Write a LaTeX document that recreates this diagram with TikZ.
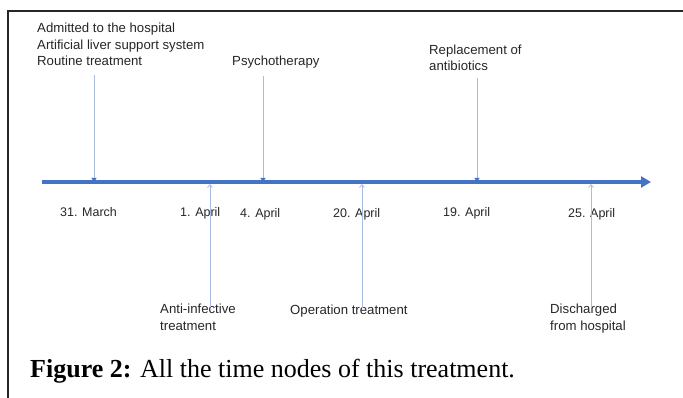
\documentclass[tikz,border=0pt]{standalone}
\usepackage{fontspec}
\setmainfont{Liberation Serif}
\setsansfont{Liberation Sans}
\usetikzlibrary{positioning,arrows.meta}
\definecolor{axisblue}{HTML}{4472C4}
\definecolor{pinblue}{HTML}{A9BDE3}
\definecolor{labelgray}{HTML}{262626}

\begin{document}
\begin{tikzpicture}[x=1pt, y=-1pt,
        event/.style={font=\sffamily\fontsize{13.2}{16.5}\selectfont, text=labelgray, align=left, inner sep=0pt, anchor=base west},
        date/.style={font=\sffamily\fontsize{12.5}{14}\selectfont, text=labelgray, inner sep=0pt, anchor=base west},
        axis/.style={draw=axisblue, line width=3.5pt, -{Triangle[length=10pt, width=11pt]}},
        downpin/.style={draw=pinblue, line width=0.8pt, -{Triangle[length=4pt, width=5pt, color=axisblue]}},
        uppin/.style={draw=pinblue, line width=0.8pt, -{Straight Barb[length=3pt, width=5pt]}},
        frame/.style={draw=black!85, line width=2pt}
    ]
        \useasboundingbox (0,0) rectangle (683,398);
        \draw [frame] (8,398) -- (8,11) -- (683,11);

        % time axis
        \coordinate (start) at (42,182);
        \coordinate (end) at (651,182);
        \draw [axis] (start) -- (end);

        % points on the axis
        \coordinate (t1) at (94,182);
        \coordinate (t2) at (210,184);
        \coordinate (t3) at (263,182);
        \coordinate (t4) at (362,184);
        \coordinate (t5) at (477,182);
        \coordinate (t6) at (591,184);

        % dates
        \node [date] (d1) at (60,217) {31. March};
        \node [date] (d2) at (180,217) {1. April};
        \node [date] (d3) at (240,218) {4. April};
        \node [date] (d4) at (333,218) {20. April};
        \node [date] (d5) at (443,217) {19. April};
        \node [date] (d6) at (568,218) {25. April};

        % events above (base = last line)
        \node [event] (admit) at (37,66) {Admitted to the hospital\\Artificial liver support system\\Routine treatment};
        \node [event] (psycho) at (232,66) {Psychotherapy};
        \node [event] (antib) at (429,71) {Replacement of\\antibiotics};

        % events below
        \node [event] (antiinf) at (160,330) {Anti-infective\\treatment};
        \node [event] (oper) at (290,314) {Operation treatment};
        \node [event] (disch) at (550,330) {Discharged\\from hospital};

        \coordinate (s1) at (94,75);
        \coordinate (s3) at (263,76);
        \coordinate (s5) at (477,78);
        \coordinate (s2) at (210,307);
        \coordinate (s4) at (362,308);
        \coordinate (s6) at (591,308);

        \draw [downpin] (s1) -- (t1);
        \draw [downpin] (s3) -- (t3);
        \draw [downpin] (s5) -- (t5);
        \draw [uppin] (s2) -- (t2);
        \draw [uppin] (s4) -- (t4);
        \draw [uppin] (s6) -- (t6);

        \node [anchor=base west, inner sep=0pt, font=\fontsize{26}{30}\selectfont] (caption) at (30,377) {\textbf{Figure 2:} All the time nodes of this treatment.};
    \end{tikzpicture}
\end{document}
